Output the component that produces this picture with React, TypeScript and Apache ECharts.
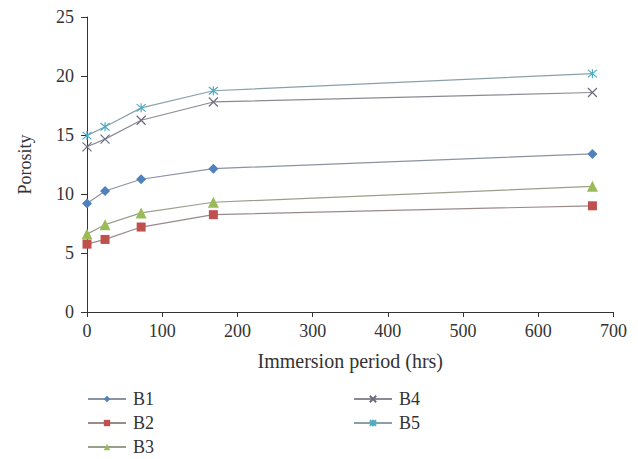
import React, { useEffect, useRef } from "react";
import * as echarts from "echarts";

const hours = [0, 24, 72, 168, 672];
const seriesNames = ["B1", "B2", "B3", "B4", "B5"];
const b1 = [9.2, 10.25, 11.25, 12.15, 13.4];
const b2 = [5.75, 6.15, 7.2, 8.25, 9.0];
const b3 = [6.6, 7.4, 8.4, 9.3, 10.65];
const b4 = [14.0, 14.65, 16.25, 17.8, 18.6];
const b5 = [14.95, 15.7, 17.3, 18.75, 20.2];
const xTicks = [0, 100, 200, 300, 400, 500, 600, 700];
const yTicks = [0, 5, 10, 15, 20, 25];

const colors = ["#4F81BD", "#C0504D", "#9BBB59", "#6E6A80", "#4BACC6"];
const lineColors = ["#8a93a0", "#9a8a8a", "#98a08a", "#8a8a94", "#8aa0a8"];
const symbols = [
  "diamond",
  "rect",
  "triangle",
  "path://M0,0L10,10M10,0L0,10",
  "path://M0,0L10,10M10,0L0,10M5,-1L5,11",
];
const symbolSizes = [10, 9, 11, 9, 9];

const FONT = "'Liberation Serif', 'DejaVu Serif', serif";

export default function App() {
  const ref = useRef<HTMLDivElement>(null);
  useEffect(() => {
    if (!ref.current) return;
    const chart = echarts.init(ref.current, undefined, { renderer: "svg" });
    const all = [b1, b2, b3, b4, b5];
    const series = all.map((vals, i) => ({
      name: seriesNames[i],
      type: "line",
      data: vals.map((v, j) => [hours[j], v]),
      symbol: symbols[i],
      symbolSize: symbolSizes[i],
      showSymbol: true,
      lineStyle: { color: lineColors[i], width: 1.2 },
      itemStyle:
        i >= 3
          ? { color: colors[i], borderColor: colors[i], borderWidth: 1.2 }
          : { color: colors[i] },
      emphasis: { disabled: true },
    }));
    const legendText = {
      fontFamily: FONT,
      fontSize: 18,
      color: "#333",
      padding: [0, 0, 0, 2],
    };
    chart.setOption({
      animation: false,
      grid: { left: 75, right: 8, top: 6, bottom: 147 },
      xAxis: {
        type: "value",
        min: xTicks[0],
        max: xTicks[xTicks.length - 1],
        interval: 100,
        name: "Immersion period (hrs)",
        nameLocation: "middle",
        nameGap: 39,
        nameTextStyle: { fontFamily: FONT, fontSize: 20, color: "#333" },
        axisLine: { show: true, lineStyle: { color: "#333", width: 1 } },
        axisTick: { show: true, length: 5, lineStyle: { color: "#333" } },
        axisLabel: { fontFamily: FONT, fontSize: 18, color: "#333", margin: 10 },
        splitLine: { show: false },
      },
      yAxis: {
        type: "value",
        min: yTicks[0],
        max: yTicks[yTicks.length - 1],
        interval: 5,
        name: "Porosity",
        nameLocation: "middle",
        nameGap: 53,
        nameTextStyle: { fontFamily: FONT, fontSize: 18, color: "#333" },
        axisLine: { show: true, lineStyle: { color: "#333", width: 1 } },
        axisTick: { show: true, length: 6, lineStyle: { color: "#333" } },
        axisLabel: { fontFamily: FONT, fontSize: 18, color: "#333", margin: 13 },
        splitLine: { show: false },
      },
      legend: [
        {
          data: ["B1", "B2", "B3"],
          orient: "vertical",
          left: 74,
          top: 377,
          height: 80,
          itemWidth: 38,
          itemHeight: 8,
          itemGap: 6,
          textStyle: legendText,
          selectedMode: false,
        },
        {
          data: ["B4", "B5"],
          orient: "vertical",
          left: 340,
          top: 377,
          height: 80,
          itemWidth: 38,
          itemHeight: 8,
          itemGap: 6,
          textStyle: legendText,
          selectedMode: false,
        },
      ],
      series,
    });
    return () => chart.dispose();
  }, []);
  return <div ref={ref} style={{ width: 622, height: 451 }} />;
}
